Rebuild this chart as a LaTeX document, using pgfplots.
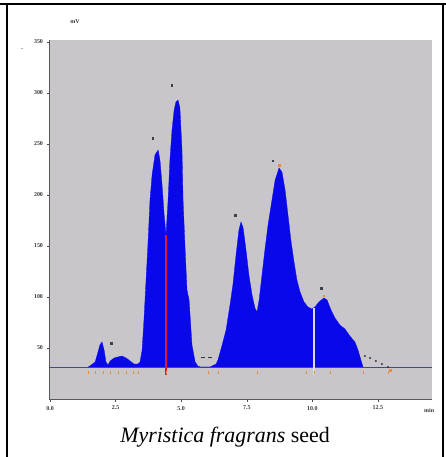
\documentclass[border=0pt]{standalone}
\usepackage{pgfplots}
\pgfplotsset{compat=1.18}
\usepackage{fontspec}
\setmainfont{Liberation Serif}

\definecolor{chromgray}{RGB}{200,198,203}
\definecolor{chromblue}{RGB}{8,8,235}
\definecolor{baseblue}{RGB}{70,70,150}
\definecolor{dropred}{RGB}{225,25,45}
\definecolor{tagorange}{RGB}{235,140,60}
\definecolor{ticktext}{RGB}{55,55,55}

\begin{document}
\begin{tikzpicture}
  \useasboundingbox (0,0) rectangle (446bp,-457bp);
  % cell frame
  \draw[line width=1.6bp] (0,-4bp) -- (446bp,-4bp);
  \draw[line width=2bp] (7bp,-4bp) -- (7bp,-457bp);
  \draw[line width=1.2bp] (443bp,-4bp) -- (443bp,-457bp);

  \begin{axis}[
      at={(49bp,-399bp)}, anchor=south west,
      scale only axis, width=383bp, height=359bp,
      xmin=-0.04, xmax=14.56, ymin=0, ymax=351.8,
      axis background/.style={fill=chromgray},
      axis lines*=left,
      axis line style={gray!70!black, line width=0.8bp},
      tick align=outside, major tick length=2.5bp,
      tick style={gray!60!black, line width=0.5bp},
      xtick={0,2.5,5,7.5,10,12.5},
      xticklabels={0.0,2.5,5.0,7.5,10.0,12.5},
      ytick={50,100,150,200,250,300,350},
      tick label style={font=\fontsize{6}{7}\selectfont\bfseries, text=ticktext},
      /pgf/number format/assume math mode=true,
      xticklabel style={yshift=-1bp},
      clip=false,
    ]
    % detector baseline
    \addplot[baseblue, line width=0.6bp] coordinates {(-0.04,31.4) (14.56,31.4)};

    % chromatogram trace, filled down to the baseline
    \addplot[fill=chromblue, draw=chromblue, line width=0.3bp] coordinates {
      (1.45,31.4) (1.52,32.3) (1.72,36.3) (1.83,46.1) (1.90,52.9) (1.98,55.9)
      (2.06,48.0) (2.13,36.3) (2.21,33.3) (2.29,37.2) (2.44,40.2) (2.59,41.2)
      (2.74,42.1) (2.90,40.2) (3.05,37.2) (3.20,34.3) (3.35,34.3) (3.43,36.3)
      (3.51,48.0) (3.58,77.4) (3.66,116.6) (3.74,155.8) (3.81,195.0) (3.89,219.5)
      (4.00,239.1) (4.12,244.0) (4.19,234.2) (4.27,209.7) (4.35,180.3) (4.42,160.7)
      (4.50,195.0) (4.57,234.2) (4.65,263.6) (4.73,283.2) (4.80,291.1) (4.88,293.0)
      (4.95,285.2) (5.03,244.0) (5.07,195.0) (5.15,146.0) (5.22,106.8) (5.30,97.0)
      (5.41,52.9) (5.53,36.3) (5.64,32.3) (5.72,31.4) (6.10,31.4) (6.33,34.3)
      (6.40,38.2) (6.56,52.9) (6.71,67.6) (6.86,92.1) (6.97,111.7) (7.09,141.1)
      (7.20,165.6) (7.28,173.5) (7.36,167.6) (7.47,146.0) (7.58,121.5) (7.70,101.9)
      (7.81,89.2) (7.89,85.3) (7.97,97.0) (8.08,121.5) (8.19,146.0) (8.31,170.5)
      (8.46,195.0) (8.58,214.6) (8.73,226.4) (8.84,222.5) (8.96,204.8) (9.07,180.3)
      (9.18,155.8) (9.30,134.3) (9.41,116.6) (9.53,104.9) (9.68,95.1) (9.83,90.2)
      (9.98,88.2) (10.10,90.2) (10.25,95.1) (10.44,99.0) (10.56,97.0) (10.71,87.2)
      (10.86,79.4) (11.05,72.5) (11.24,68.6) (11.43,61.7) (11.62,55.9) (11.74,48.0)
      (11.85,38.2) (11.93,31.4)
    };

    % peak separation drop lines
    \addplot[dropred, line width=1.2bp] coordinates {(4.42,160.7) (4.42,23.5)};
    \addplot[white!85!blue, line width=1.2bp] coordinates {(10.06,89.0) (10.06,23.5)};

    % tail of the integration baseline
    \addplot[only marks, mark=*, mark size=0.7bp, black!80]
      coordinates {(12.00,42.1) (12.20,40.2) (12.42,37.2) (12.65,34.3) (12.88,31.4)};
    \addplot[only marks, mark=-, mark size=2bp, black!80, line width=0.8bp]
      coordinates {(5.83,41.2) (6.10,41.2)};

    % peak apex tags
    \addplot[only marks, mark=square*, mark size=0.8bp, black!75]
      coordinates {(2.32,54.9) (3.91,255.8) (4.64,307.7) (7.05,180.3) (8.49,233.5) (10.33,108.8)};
    \addplot[only marks, mark=square*, mark size=0.7bp, tagorange]
      coordinates {(8.73,229) (10.44,101) (12.96,28.4)};

    % start/end tags below the baseline
    \addplot[only marks, mark=|, mark size=1.5bp, tagorange, line width=0.6bp]
      coordinates {(1.45,25.5) (1.72,25.5) (2.02,25.5) (2.29,25.5) (2.59,25.5)
                   (2.90,25.5) (3.16,25.5) (3.35,25.5) (4.42,25.5) (6.02,25.5)
                   (6.40,25.5) (7.89,25.5) (9.76,25.5) (10.06,25.5) (10.67,25.5)
                   (11.93,25.5) (12.88,25.5)};

    \node[font=\fontsize{6}{7}\selectfont\bfseries, text=ticktext, anchor=north]
      at (axis cs:14.45,-6) {min};
  \end{axis}

  % detector label and unit
  \node[font=\fontsize{6}{7}\selectfont\bfseries, text=ticktext] at (75bp,-22bp) {mV};
  \node[font=\fontsize{6}{7}\selectfont\bfseries, text=ticktext] at (22bp,-50bp) {-};

  % caption
  \node[font=\fontsize{22}{25}\selectfont] at (225bp,-437bp)
    {\textit{Myristica fragrans} seed};
\end{tikzpicture}
\end{document}
